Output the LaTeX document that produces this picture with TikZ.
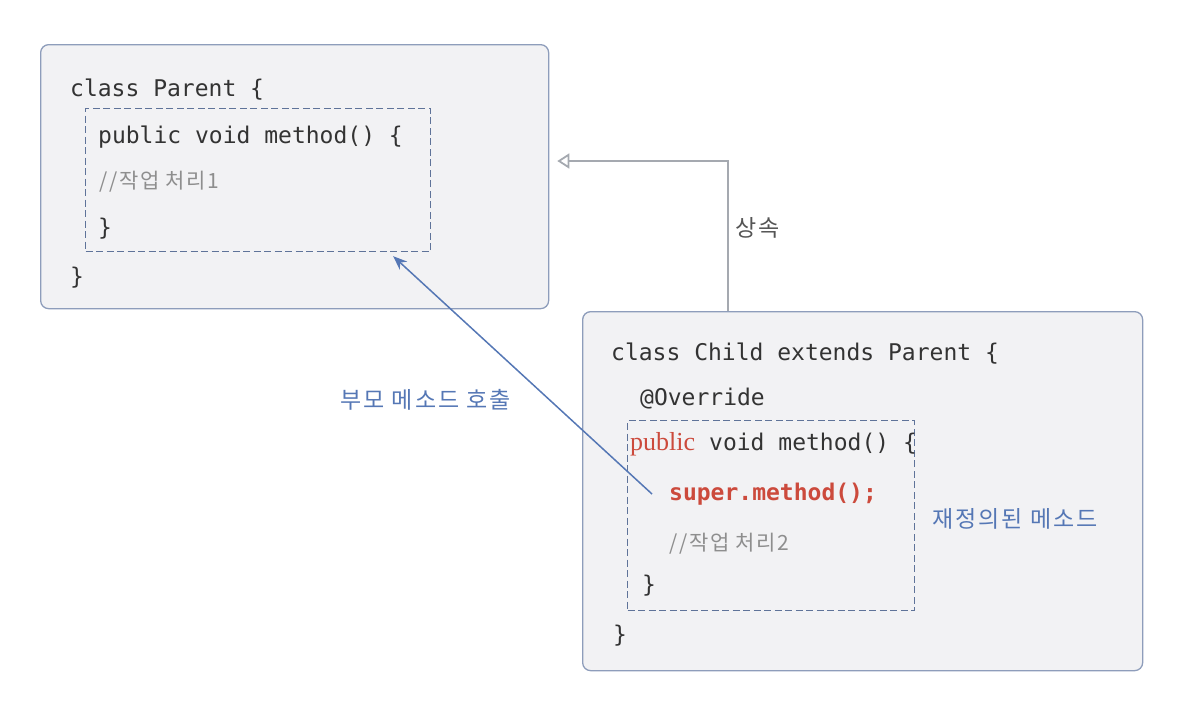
\documentclass[tikz,border=0pt]{standalone}
\usepackage{fontspec}
\setmonofont{DejaVu Sans Mono}
\newfontfamily\krcmt[LetterSpace=8]{Noto Sans CJK KR}
\newfontfamily\krlab[LetterSpace=9]{Noto Sans CJK KR}
\newfontfamily\serfont{Liberation Serif}
\usetikzlibrary{arrows.meta,calc}
\definecolor{boxfill}{HTML}{F2F2F4}
\definecolor{boxline}{HTML}{8E9DBB}
\definecolor{dashline}{HTML}{5F7399}
\definecolor{codecol}{HTML}{333333}
\definecolor{cmtcol}{HTML}{8E8E8E}
\definecolor{redcol}{HTML}{CC4A3C}
\definecolor{bluecol}{HTML}{5577B5}
\definecolor{inhcol}{HTML}{A5A9B0}
\definecolor{labcol}{HTML}{555555}
\begin{document}
\begin{tikzpicture}[x=1pt,y=-1pt,
  classbox/.style={draw=boxline, fill=boxfill, line width=1.3pt, rounded corners=8pt, anchor=north west, inner sep=0pt},
  methodbox/.style={draw=dashline, dash pattern=on 7pt off 3.5pt, line width=1.2pt, anchor=north west, inner sep=0pt},
  code/.style={anchor=base west, inner sep=0pt, font=\ttfamily\fontsize{23}{26}\selectfont, text=codecol},
  redcode/.style={code, font=\ttfamily\bfseries\fontsize{23}{26}\selectfont, text=redcol},
  pub/.style={anchor=base west, inner sep=0pt, font=\serfont\fontsize{26}{28}\selectfont, text=redcol},
  cmt/.style={anchor=base west, inner sep=0pt, font=\krcmt\fontsize{21}{24}\selectfont, text=cmtcol},
  lab/.style={anchor=base west, inner sep=0pt, font=\krlab\fontsize{23}{26}\selectfont, text=labcol},
  bluelab/.style={anchor=base west, inner sep=0pt, font=\krlab\fontsize{23}{26}\selectfont, text=bluecol},
  inh/.style={draw=inhcol, line width=2pt, -{Triangle[open, length=12pt, width=15pt, line width=1.8pt]}},
  call/.style={draw=bluecol, line width=1.5pt, -{Stealth[length=14pt, width=11pt]}}
]
\useasboundingbox (0,0) rectangle (1192,702);

% Parent class
\node[classbox, minimum width=508pt, minimum height=264pt] (parent) at (40,44) {};
\node[methodbox, minimum width=345pt, minimum height=143pt] (pmeth) at (85,108) {};
\node[code] (p1) at (70,96) {class Parent \{};
\node[code] (p2) at (98,143) {public void method() \{};
\node[cmt] (p3) at (99,188) {//작업 처리1};
\node[code] (p4) at (98,235) {\}};
\node[code] (p5) at (70,284) {\}};

% Child class
\node[classbox, minimum width=560pt, minimum height=359pt] (child) at (582,311) {};
\node[methodbox, minimum width=287pt, minimum height=190pt] (cmeth) at (627,420) {};
\node[code] (c1) at (611,360) {class Child extends Parent \{};
\node[code] (c2) at (640,405) {@Override};
\node[pub] (c3a) at (630,450) {public};
\node[code] (c3b) at (709,450) {void method() \{};
\node[redcode] (c4) at (669,500) {super.method();};
\node[cmt] (c5) at (669,550) {//작업 처리2};
\node[code] (c6) at (642,592) {\}};
\node[code] (c7) at (613,642) {\}};

% Labels
\node[lab] (l1) at (735,236) {상속};
\node[bluelab] (l2) at (340,408) {부모 메소드 호출};
\node[bluelab] (l3) at (932,527) {재정의된 메소드};

% Inheritance connector
\coordinate (bend) at (728,161);
\draw[inh] (child.north -| bend) -- (bend) -- ($(bend -| parent.east)+(8,0)$);

% Super call connector
\coordinate (callfrom) at ($(c4.base west)+(-17,-6)$);
\coordinate (callto) at ($(pmeth.south east)+(-38,4)$);
\draw[call] (callfrom) -- (callto);
\end{tikzpicture}
\end{document}
